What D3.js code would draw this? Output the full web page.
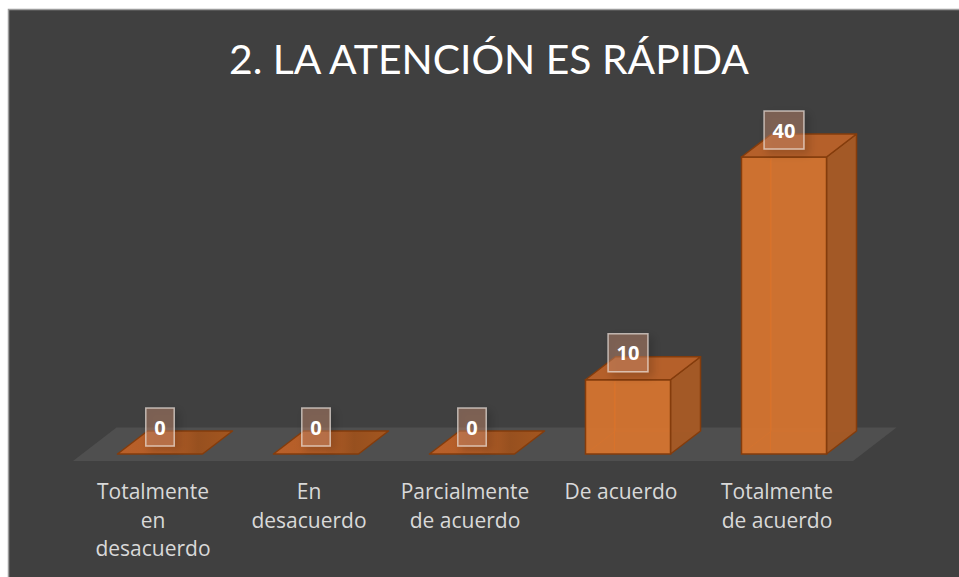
<!DOCTYPE html>
<html>
<head>
<meta charset="utf-8">
<script src="https://cdn.jsdelivr.net/npm/d3@7"></script>
<style>
  html, body { margin: 0; padding: 0; background: #ffffff; }
  svg { display: block; }
</style>
</head>
<body>
<svg id="chart" width="959" height="577"></svg>
<script>
// ---- data ----
const title = "2. LA ATENCIÓN ES RÁPIDA";
const categories = ["Totalmente en desacuerdo", "En desacuerdo", "Parcialmente de acuerdo", "De acuerdo", "Totalmente de acuerdo"];
const tickLabelLines = [
  ["Totalmente", "en", "desacuerdo"],
  ["En", "desacuerdo"],
  ["Parcialmente", "de acuerdo"],
  ["De acuerdo"],
  ["Totalmente", "de acuerdo"]
];
const values = [0, 0, 0, 10, 40];

// ---- layout ----
const W = 959, H = 577;
const svg = d3.select("#chart");

const x = d3.scaleBand().domain(categories).range([82, 862])
  .paddingInner(0.455).paddingOuter(0.2275);
const y = d3.scaleLinear().domain([0, 40]).range([454, 157]);

const depth = { dx: 30, dy: -23 };

const defs = svg.append("defs");
const sh = defs.append("filter").attr("id", "shadow")
  .attr("x", "-50%").attr("y", "-50%").attr("width", "200%").attr("height", "200%");
sh.append("feDropShadow").attr("dx", 4).attr("dy", 4).attr("stdDeviation", 4)
  .attr("flood-color", "#000").attr("flood-opacity", 0.35);

const fg = defs.append("linearGradient").attr("id", "flatTop").attr("x1", "0").attr("x2", "1");
fg.append("stop").attr("offset", "0").attr("stop-color", "#b9602a");
fg.append("stop").attr("offset", "0.45").attr("stop-color", "#b35d27");
fg.append("stop").attr("offset", "0.7").attr("stop-color", "#97501f");
fg.append("stop").attr("offset", "1").attr("stop-color", "#a4561f");

// chart area background
svg.append("rect").attr("x", 8.5).attr("y", 9.5).attr("width", W).attr("height", H)
  .attr("fill", "#404040").attr("stroke", "#9c9c9c").attr("stroke-width", 1.5);

// title
svg.append("text").attr("x", 489).attr("y", 74)
  .attr("text-anchor", "middle")
  .attr("font-family", "Lato, 'Open Sans', sans-serif")
  .attr("font-weight", 400)
  .attr("font-size", 41)
  .attr("textLength", 520).attr("lengthAdjust", "spacingAndGlyphs")
  .attr("fill", "#ffffff")
  .text(title);

// floor
const x0 = x.range()[0], x1 = x.range()[1], y0 = y(0);
const fFront = 0.3, fBack = 1.15;
const floorPts = [
  [x0 - depth.dx * fFront, y0 - depth.dy * fFront],
  [x1 - depth.dx * fFront, y0 - depth.dy * fFront],
  [x1 + depth.dx * fBack, y0 + depth.dy * fBack],
  [x0 + depth.dx * fBack, y0 + depth.dy * fBack]
];
svg.append("polygon").attr("points", floorPts.map(p => p.join(",")).join(" "))
  .attr("fill", "#4f4f4f");

// bars
const stroke = "#843c0c";
const gBars = svg.append("g");
values.forEach((v, i) => {
  const c = categories[i];
  const bx = x(c), bw = x.bandwidth();
  const top = y(v), bot = y(0);
  const g = gBars.append("g");
  if (v > 0) {
    g.append("path")
      .attr("d", `M${bx + depth.dx},${bot + depth.dy}V${top + depth.dy} M${bx + depth.dx},${bot + depth.dy}H${bx + bw + depth.dx} M${bx},${bot}L${bx + depth.dx},${bot + depth.dy}`)
      .attr("stroke", "#c0601f").attr("stroke-width", 1).attr("fill", "none").attr("opacity", 0.8);
    g.append("polygon").attr("points", [
      [bx + bw, top], [bx + bw + depth.dx, top + depth.dy],
      [bx + bw + depth.dx, bot + depth.dy], [bx + bw, bot]
    ].map(p => p.join(",")).join(" "))
      .attr("fill", "#a65a25").attr("fill-opacity", 0.97)
      .attr("stroke", stroke).attr("stroke-width", 1.5).attr("stroke-linejoin", "round");
    g.append("rect").attr("x", bx).attr("y", top).attr("width", bw).attr("height", bot - top)
      .attr("fill", "#d5742f").attr("fill-opacity", 0.95)
      .attr("stroke", stroke).attr("stroke-width", 1.5);
    g.append("line").attr("x1", bx + depth.dx - 1).attr("x2", bx + depth.dx - 1)
      .attr("y1", top + 2).attr("y2", bot - 2)
      .attr("stroke", "#e07428").attr("stroke-width", 1).attr("opacity", 0.6);
  }
  g.append("polygon").attr("points", [
    [bx, top], [bx + bw, top], [bx + bw + depth.dx, top + depth.dy], [bx + depth.dx, top + depth.dy]
  ].map(p => p.join(",")).join(" "))
    .attr("fill", v > 0 ? "#b5602a" : "url(#flatTop)")
    .attr("stroke", stroke).attr("stroke-width", 1.5).attr("stroke-linejoin", "round");
});

// data labels
const gLab = svg.append("g");
values.forEach((v, i) => {
  const c = categories[i];
  const cx = x(c) + x.bandwidth() / 2;
  const cy = y(v) - 27;
  const g = gLab.append("g");
  const t = g.append("text").attr("x", cx).attr("y", cy + 7.5)
    .attr("text-anchor", "middle")
    .attr("font-family", "'Open Sans', Lato, sans-serif")
    .attr("font-weight", 700).attr("font-size", 20)
    .attr("fill", "#ffffff").text(v);
  const tw = t.node().getComputedTextLength();
  const bw = tw + 17;
  g.insert("rect", "text").attr("x", cx - bw / 2).attr("y", cy - 19).attr("width", bw).attr("height", 38)
    .attr("fill", "rgba(200,140,110,0.42)")
    .attr("stroke", "rgba(235,225,220,0.7)").attr("stroke-width", 1.5)
    .attr("filter", "url(#shadow)");
});

// category labels
const gAx = svg.append("g");
categories.forEach((c, i) => {
  const cx = x(c) + x.bandwidth() / 2 - 7;
  const t = gAx.append("text").attr("text-anchor", "middle")
    .attr("font-family", "'Open Sans', Lato, sans-serif")
    .attr("font-size", 21).attr("fill", "#d9d9d9");
  tickLabelLines[i].forEach((line, k) => {
    t.append("tspan").attr("x", cx).attr("y", 499 + k * 28.6).text(line);
  });
});
</script>
</body>
</html>
